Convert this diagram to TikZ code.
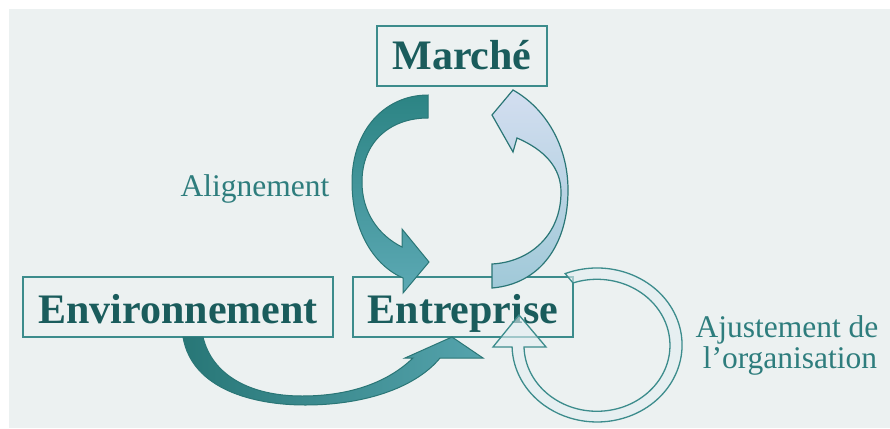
\documentclass[tikz,border=0pt]{standalone}
\usepackage{fontspec}
\setmainfont{Liberation Serif}
\definecolor{paper}{HTML}{ECF1F1}
\definecolor{frame}{HTML}{3C8C8C}
\definecolor{boldtxt}{HTML}{1A5C5C}
\definecolor{lbltxt}{HTML}{2E7D7D}
\definecolor{darkA}{HTML}{2C8484}
\definecolor{darkB}{HTML}{5CA9B4}
\definecolor{lightA}{HTML}{D3DEF0}
\definecolor{lightB}{HTML}{A0C9D8}
\definecolor{ringfill}{HTML}{E2EFF2}
\definecolor{edge}{HTML}{2A7676}
\begin{document}
\begin{tikzpicture}[x=1pt,y=-1pt,
  boxlbl/.style={draw=frame, line width=1.6pt, text=boldtxt,
    font=\fontsize{42}{48}\selectfont\bfseries, text depth=0pt, minimum height=60pt},
  lbl/.style={text=lbltxt, font=\fontsize{31.5}{31}\selectfont, inner sep=0pt},
  darkarrow/.style={draw=edge, line width=1pt, top color=darkA, bottom color=darkB},
  lightarrow/.style={draw=edge, line width=1.2pt, top color=lightA, bottom color=lightB},
  envarrow/.style={draw=edge, line width=1pt, left color=darkA!90!black, right color=darkB!85!darkA},
  ringarrow/.style={draw=frame, line width=1.3pt, fill=ringfill, fill opacity=0.6}]

% page and textured panel
\useasboundingbox (0,0) rectangle (890,428);
\fill[white] (0,0) rectangle (890,428);
\fill[paper] (9,9) rectangle (890,428);

% boxes
\node[boxlbl, minimum width=170pt, text height=26pt] (marche) at (462,56) {Marché};
\node[boxlbl, minimum width=310pt, text height=32pt] (env) at (178,307) {Environnement};
\node[boxlbl, minimum width=220pt, text height=32pt] (ent) at (463,307) {Entreprise};

% labels
\node[lbl, anchor=base] (align) at (255,196) {Alignement};
\node[lbl, anchor=base] (ajust1) at (787,337) {Ajustement de};
\node[lbl, anchor=base] (ajust2) at (790,368) {l’organisation};

% Marché -> Entreprise (alignement)
\path[darkarrow] (428,95) .. controls (385,95) and (352,130) .. (352,182)
  .. controls (352,232) and (375,266) .. (403,278)
  -- (403,293) -- (429,262) -- (402,229) -- (402,247)
  .. controls (378,235) and (362,212) .. (362,182)
  .. controls (362,142) and (390,118) .. (428,118) -- cycle;

% Entreprise -> Marché
\path[lightarrow] (492,264) -- (492,288)
  .. controls (540,284) and (568,245) .. (568,190)
  .. controls (568,145) and (545,108) .. (513,90)
  -- (492,115) -- (513,152) -- (517,138)
  .. controls (545,150) and (561,168) .. (561,192)
  .. controls (561,235) and (530,262) .. (492,264) -- cycle;

% Environnement -> Entreprise
\path[envarrow] (183,337) .. controls (192,390) and (255,405) .. (305,405)
  .. controls (370,405) and (418,385) .. (440,358)
  -- (483,358) -- (452,337) -- (405,358) -- (413,358)
  .. controls (385,385) and (345,396) .. (302,396)
  .. controls (250,396) and (212,375) .. (203,337) -- cycle;

% ajustement loop on Entreprise
\path[ringarrow] (565.2,273.6) arc[start angle=248, end angle=538.5, x radius=85, y radius=77]
  -- (493,347) -- (519,315) -- (546,347) -- (524,347)
  arc[start angle=178.5, end angle=-109.2, x radius=73, y radius=66] -- cycle;
\end{tikzpicture}
\end{document}
